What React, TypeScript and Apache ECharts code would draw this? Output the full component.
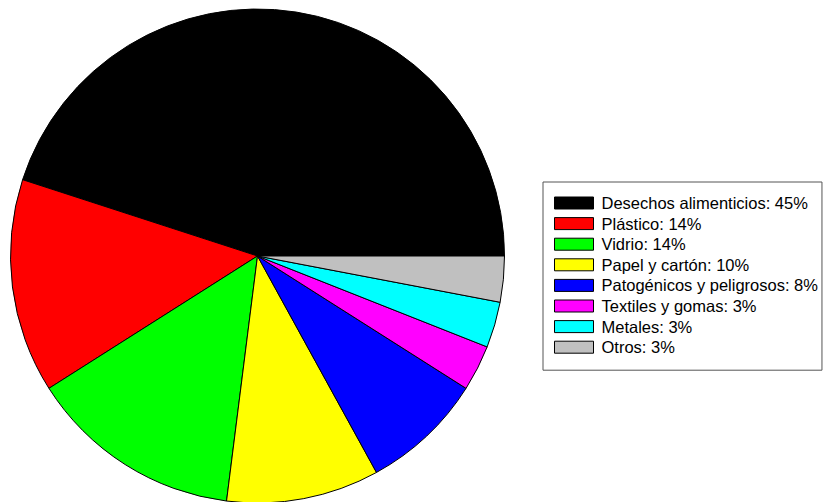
import React, { useEffect, useRef } from "react";
import * as echarts from "echarts";

const categories = [
  "Desechos alimenticios",
  "Plástico",
  "Vidrio",
  "Papel y cartón",
  "Patogénicos y peligrosos",
  "Textiles y gomas",
  "Metales",
  "Otros",
];
const values = [45, 14, 14, 10, 8, 3, 3, 3];
const colors = ["#000000", "#ff0000", "#00ff00", "#ffff00", "#0000ff", "#ff00ff", "#00ffff", "#c0c0c0"];

export default function App() {
  const ref = useRef<HTMLDivElement>(null);
  useEffect(() => {
    document.body.style.margin = "0";
    const chart = echarts.init(ref.current!, null, { renderer: "svg" });
    const data = categories.map((name, i) => ({
      name,
      value: values[i],
      itemStyle: { color: colors[i] },
    }));
    chart.setOption({
      animation: false,
      backgroundColor: "#ffffff",
      legend: {
        orient: "vertical",
        left: 543,
        top: 182,
        padding: [10.7, 4, 12.7, 11],
        borderColor: "#555555",
        borderWidth: 1,
        itemWidth: 39,
        itemHeight: 12,
        itemGap: 0,
        icon: "rect",
        selectedMode: false,
        formatter: (name: string) => {
          const i = categories.indexOf(name);
          return `${name}: ${values[i]}%`;
        },
        textStyle: {
          fontFamily: "Liberation Sans, Arial, sans-serif",
          fontSize: 16.5,
          color: "#000000",
          lineHeight: 20.6,
          padding: [0, 0, 0, 3],
        },
        itemStyle: { borderColor: "#000000", borderWidth: 1 },
      },
      series: [
        {
          type: "pie",
          center: [257.5, 256],
          radius: 247,
          startAngle: 0,
          clockwise: false,
          label: { show: false },
          labelLine: { show: false },
          emphasis: { disabled: true },
          itemStyle: { borderColor: "#000000", borderWidth: 1 },
          data,
        },
      ],
    });
    return () => chart.dispose();
  }, []);
  return <div ref={ref} style={{ position: "absolute", left: 0, top: 0, width: 825, height: 502 }} />;
}
